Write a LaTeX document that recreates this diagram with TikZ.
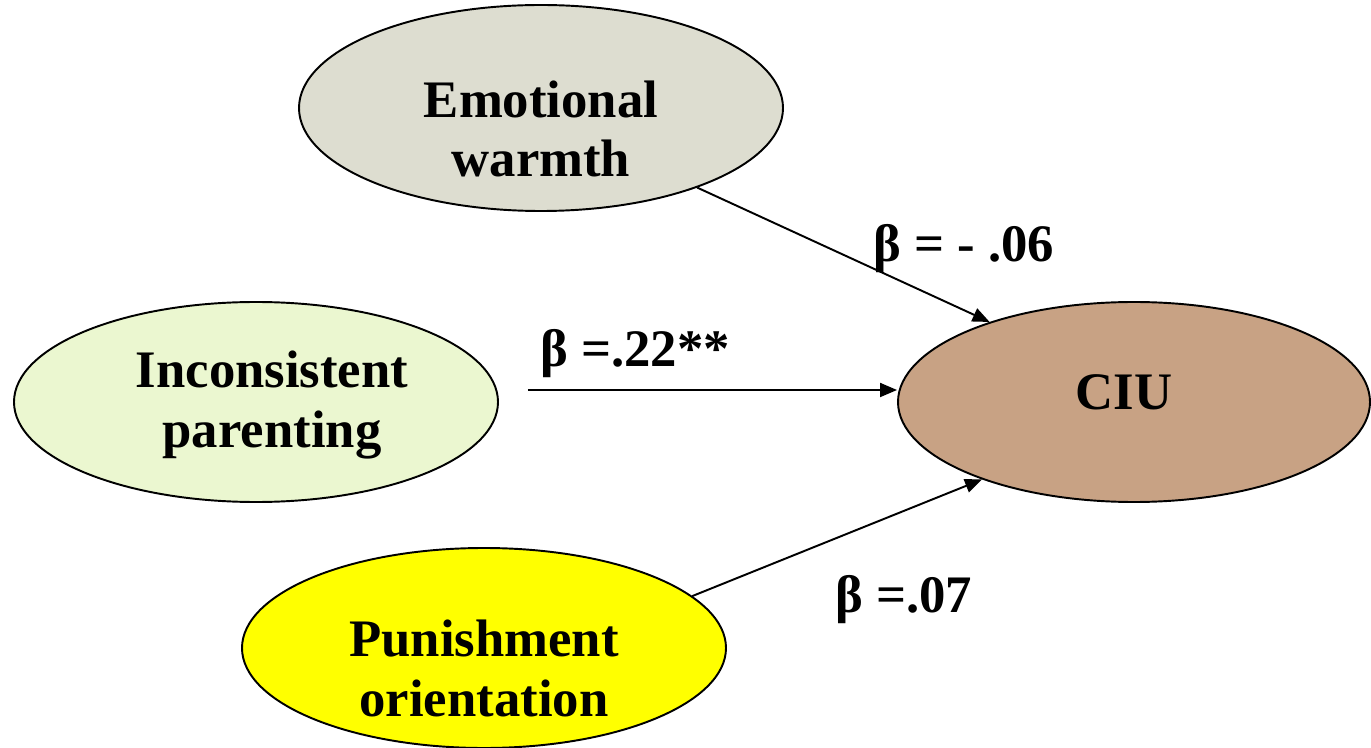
\documentclass[tikz,border=0pt]{standalone}
\usepackage{fontspec}
\setmainfont{Liberation Serif}
\usetikzlibrary{shapes.geometric,arrows.meta}
\definecolor{ewfill}{HTML}{DDDDD0}
\definecolor{ipfill}{HTML}{EBF7D0}
\definecolor{ciufill}{HTML}{C8A284}
\definecolor{pofill}{HTML}{FFFF00}
\tikzset{
  oval/.style={ellipse, draw=black, line width=1.1pt, inner sep=0pt},
  lbl/.style={font=\fontsize{30}{34}\selectfont\bfseries, align=center, inner sep=0pt},
  coef/.style={font=\fontsize{30}{34}\selectfont\bfseries, inner sep=0pt, anchor=base west},
  link/.style={draw=black, line width=1.1pt, -{Triangle[length=0.34cm,width=0.28cm]}}
}
\begin{document}
\begin{tikzpicture}
\useasboundingbox (0,0) rectangle (27.42,-14.96);
\node[oval, fill=ewfill, minimum width=9.68cm, minimum height=4.12cm] (ew) at (10.82,-2.16) {};
\node[oval, fill=ipfill, minimum width=9.68cm, minimum height=4.0cm] (ip) at (5.12,-8.04) {};
\node[oval, fill=pofill, minimum width=9.68cm, minimum height=4.0cm] (po) at (9.68,-12.96) {};
\node[oval, fill=ciufill, minimum width=9.44cm, minimum height=4.0cm] (ciu) at (22.68,-8.04) {};
\node[lbl] (ewt) at (10.82,-2.58) {Emotional\\warmth};
\node[lbl] (ipt) at (5.44,-8.10) {Inconsistent\\parenting};
\node[lbl] (pot) at (9.68,-13.37) {Punishment\\orientation};
\node[lbl] (ciut) at (22.48,-7.84) {CIU};
\draw[link] (ew.-27.6) -- (ciu.151.8);
\draw[link] ([xshift=0.58cm,yshift=0.24cm]ip.east) -- ([yshift=0.24cm]ciu.west);
\draw[link] (po.14.4) -- (ciu.207.9);
\node[coef] (c1) at (17.46,-5.24) {β = - .06};
\node[coef] (c2) at (10.80,-7.34) {β =.22**};
\node[coef] (c3) at (16.70,-12.24) {β =.07};
\end{tikzpicture}
\end{document}
